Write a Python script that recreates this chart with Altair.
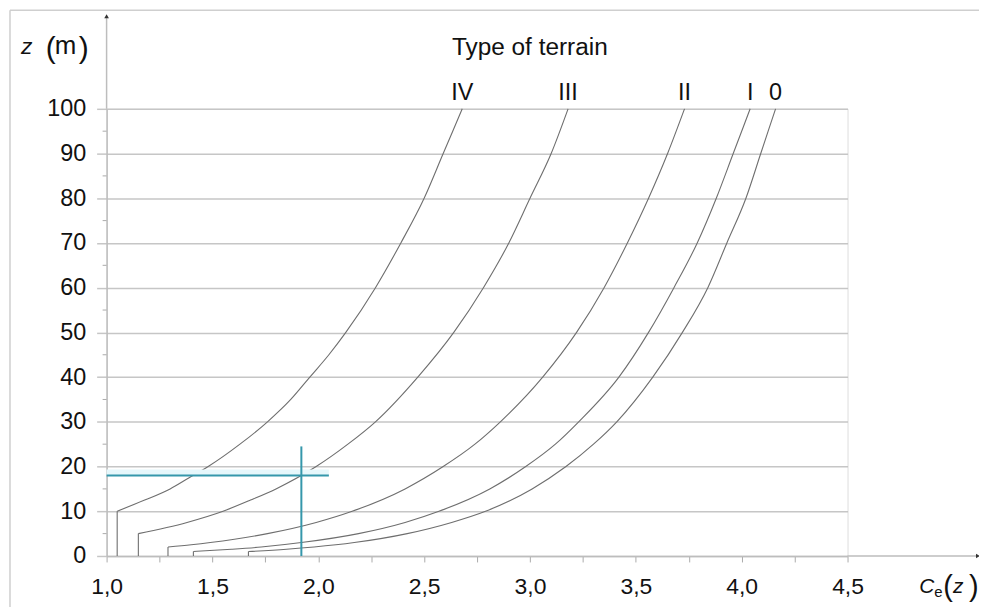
import altair as alt
import pandas as pd

# ---- data ----
TERRAINS = ["0", "I", "II", "III", "IV"]

Z_0 = [1, 1.5, 2, 3, 5, 7.5, 10, 15, 20, 25, 30, 40, 50, 60, 70, 80, 90, 100]
CE_0 = [1.67, 1.85, 1.98, 2.17, 2.42, 2.63, 2.79, 3.01, 3.17, 3.30, 3.41, 3.58, 3.72, 3.84, 3.93, 4.02, 4.09, 4.16]

Z_I = [1, 1.5, 2, 3, 5, 7.5, 10, 15, 20, 25, 30, 40, 50, 60, 70, 80, 90, 100]
CE_I = [1.41, 1.59, 1.73, 1.92, 2.19, 2.41, 2.57, 2.81, 2.98, 3.12, 3.23, 3.42, 3.56, 3.68, 3.79, 3.88, 3.96, 4.04]

Z_II = [2, 2.5, 3, 5, 7.5, 10, 15, 20, 25, 30, 40, 50, 60, 70, 80, 90, 100]
CE_II = [1.29, 1.40, 1.49, 1.76, 1.99, 2.16, 2.41, 2.59, 2.74, 2.86, 3.06, 3.22, 3.35, 3.46, 3.56, 3.65, 3.73]

Z_III = [5, 7.5, 10, 12.5, 15, 20, 25, 30, 40, 50, 60, 70, 80, 90, 100]
CE_III = [1.15, 1.38, 1.55, 1.68, 1.80, 1.99, 2.14, 2.27, 2.47, 2.64, 2.78, 2.90, 3.00, 3.10, 3.18]

Z_IV = [10, 12.5, 15, 17.5, 20, 25, 30, 35, 40, 45, 50, 60, 70, 80, 90, 100]
CE_IV = [1.05, 1.18, 1.30, 1.39, 1.48, 1.63, 1.76, 1.87, 1.96, 2.05, 2.13, 2.27, 2.39, 2.50, 2.59, 2.68]

SERIES = {"0": (Z_0, CE_0), "I": (Z_I, CE_I), "II": (Z_II, CE_II),
          "III": (Z_III, CE_III), "IV": (Z_IV, CE_IV)}

X_TICKS = [1.0, 1.25, 1.5, 1.75, 2.0, 2.25, 2.5, 2.75, 3.0, 3.25, 3.5, 3.75, 4.0, 4.25, 4.5]
Y_TICKS = [0, 10, 20, 30, 40, 50, 60, 70, 80, 90, 100]
Y_MINOR = [5, 15, 25, 35, 45, 55, 65, 75, 85, 95]

# example reading (cyan cross)
EX_Z = [18]
EX_CE = [1.92]
EX_H_END = [2.05]
EX_V_TOP = [24.5]

# ---- tables ----
rows = []
for t in TERRAINS:
    zs, cs = SERIES[t]
    for z, c in zip(zs, cs):
        rows.append({"terrain": t, "z": z, "ce": c})
curves = pd.DataFrame(rows)
steps = pd.DataFrame([{"terrain": t, "ce": SERIES[t][1][0], "z": 0, "z1": SERIES[t][0][0]} for t in TERRAINS])
tops = pd.DataFrame([{"terrain": t, "ce": SERIES[t][1][-1], "z": SERIES[t][0][-1]} for t in TERRAINS])
minor = pd.DataFrame({"z": Y_MINOR})
hline = pd.DataFrame({"ce": [1.0], "ce2": EX_H_END, "z": EX_Z})
vline = pd.DataFrame({"ce": EX_CE, "z": [0], "z2": EX_V_TOP})

FONT = "Liberation Sans"
TXT = "#111111"
GRID = "#c6c6c6"
CURVE = "#6e6e6e"
CYAN = "#3597ab"

xs = alt.Scale(domain=[1.0, 4.5], nice=False, zero=False)
ys = alt.Scale(domain=[0, 100], nice=False, zero=False)

x_axis = alt.Axis(
    values=X_TICKS,
    labelExpr="datum.value % 0.5 == 0 ? replace(format(datum.value, '.1f'), '.', ',') : ''",
    grid=False, tickSize=6, tickColor="#aaaaaa", domainColor="#bdbdbd", domainWidth=1.5,
    labelFont=FONT, labelFontSize=23, labelColor=TXT, labelPadding=14,
    labelFlush=False, labelOverlap=False, title=None,
)
y_axis = alt.Axis(
    values=Y_TICKS, grid=True, gridColor=GRID, gridWidth=1.5,
    tickSize=10, tickColor=GRID, tickWidth=1.5, domainColor="#bdbdbd", domainWidth=1.5,
    labelFont=FONT, labelFontSize=23.5, labelColor=TXT, labelPadding=11,
    title=None,
)


def X(field="ce"):
    return alt.X(f"{field}:Q", scale=xs, axis=x_axis)


def Y(field="z"):
    return alt.Y(f"{field}:Q", scale=ys, axis=y_axis)


lines = alt.Chart(curves).mark_line(color=CURVE, strokeWidth=1.1, interpolate="monotone").encode(
    x=X(), y=Y(), detail="terrain:N",
)

step_rules = alt.Chart(steps).mark_rule(color=CURVE, strokeWidth=1.1).encode(
    x=X(), y=Y(), y2="z1:Q",
)

minor_ticks = alt.Chart(minor).mark_rule(color="#aaaaaa", strokeWidth=1).encode(
    x=alt.value(-4), x2=alt.value(0), y=Y(),
)

top_labels = alt.Chart(tops).mark_text(
    font=FONT, fontSize=23.5, color=TXT, align="center", baseline="alphabetic", dy=-9
).encode(x=X(), y=Y(), text="terrain:N")

halo = alt.Chart(hline).mark_rule(color="#e6f7fb", strokeWidth=6, yOffset=-3).encode(
    x=X(), x2="ce2:Q", y=Y(),
)
h_rule = alt.Chart(hline).mark_rule(color=CYAN, strokeWidth=2).encode(
    x=X(), x2="ce2:Q", y=Y(),
)
v_rule = alt.Chart(vline).mark_rule(color=CYAN, strokeWidth=2).encode(
    x=X(), y=Y(), y2="z2:Q",
)

# decorations: frame, axis extensions with arrows, titles
deco = pd.DataFrame({"k": [0]})
base = alt.Chart(deco)
frame_top = base.mark_rule(color="#cfcfcf", strokeWidth=1.5).encode(
    x=alt.value(-97), x2=alt.value(885), y=alt.value(-99))
frame_left = base.mark_rule(color="#cfcfcf", strokeWidth=1.5).encode(
    x=alt.value(-97), y=alt.value(-99), y2=alt.value(510))
y_ext = base.mark_rule(color="#bdbdbd", strokeWidth=1.5).encode(
    x=alt.value(0), y=alt.value(0), y2=alt.value(-92))
y_arrow = base.mark_point(shape="triangle-up", filled=True, color="#333333", size=22, opacity=1).encode(
    x=alt.value(0), y=alt.value(-93))
x_ext = base.mark_rule(color="#bdbdbd", strokeWidth=1.5).encode(
    x=alt.value(744), x2=alt.value(874), y=alt.value(449))
x_arrow = base.mark_point(shape="triangle-right", filled=True, color="#333333", size=22, opacity=1).encode(
    x=alt.value(875), y=alt.value(449))


def txt(s, x, y, size=23, style="normal", align="left"):
    return base.mark_text(text=s, font=FONT, fontSize=size, fontStyle=style, color=TXT,
                          align=align, baseline="alphabetic").encode(x=alt.value(x), y=alt.value(y))


title = txt("Type of terrain", 425, -54, size=24.5, align="center")
yt_z = txt("z", -86, -55, size=23, style="italic")
yt_lp = txt("(", -61, -51, size=30)
yt_m = txt("m", -52, -55, size=26)
yt_rp = txt(")", -28, -51, size=30)
xt_c = txt("C", 816, 486, size=21, style="italic")
xt_e = txt("e", 831, 490, size=15)
xt_lp = txt("(", 840, 489, size=29)
xt_z = txt("z", 850, 486, size=21, style="italic")
xt_rp = txt(")", 866, 489, size=29)

chart = alt.layer(
    frame_top, frame_left, y_ext, x_ext,
    lines, step_rules, minor_ticks, halo, h_rule, v_rule, top_labels,
    y_arrow, x_arrow,
    title, yt_z, yt_lp, yt_m, yt_rp, xt_c, xt_e, xt_lp, xt_z, xt_rp,
).properties(
    width=744, height=449,
    autosize=alt.AutoSizeParams(type="none"),
    padding={"left": 99, "top": 100, "right": 132, "bottom": 50},
).configure_view(
    stroke=GRID, strokeWidth=1.5
).configure(background="white")

chart.save("out.html", embed_options={"renderer": "svg", "actions": False})
